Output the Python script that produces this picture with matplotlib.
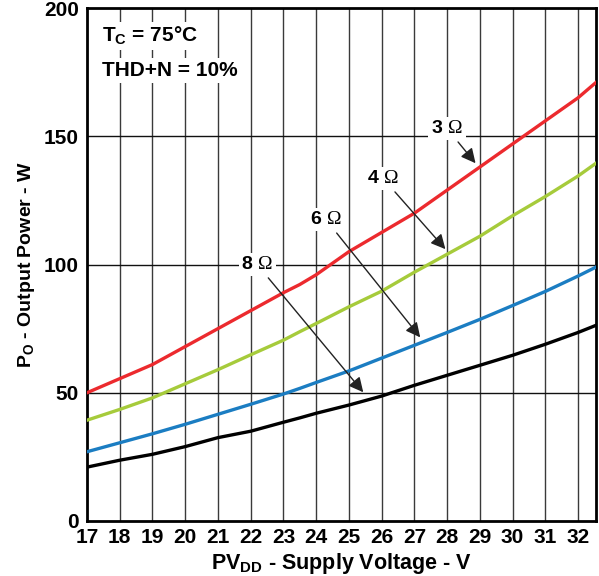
import matplotlib
matplotlib.use("Agg")
import matplotlib.pyplot as plt

plt.rcParams['font.family'] = ['Liberation Sans', 'DejaVu Sans']
plt.rcParams['mathtext.fontset'] = 'custom'
plt.rcParams['mathtext.rm'] = 'Liberation Serif'
plt.rcParams['mathtext.bf'] = 'Liberation Sans:bold'
plt.rcParams['mathtext.it'] = 'Liberation Sans:bold'

# supply voltage (V)
volts = [17, 18, 19, 20, 21, 22, 23, 23.5, 24, 25, 26, 27, 28, 29, 30, 31, 32, 32.55]
# output power (W) per load
p_3ohm = [50, 55.5, 61, 68, 75, 82, 89, 92.2, 96, 105, 112.5, 120, 129, 138, 147, 156, 165, 171]
p_4ohm = [39.3, 43.5, 48, 53.5, 59, 64.8, 70.5, 73.8, 77, 83.5, 89.6, 97, 104, 111, 119, 126.5, 134.5, 139.5]
p_6ohm = [27, 30.5, 34, 37.7, 41.6, 45.5, 49.5, 51.7, 54, 58.5, 63.5, 68.5, 73.5, 78.6, 84, 89.5, 95.5, 99]
p_8ohm = [21, 23.7, 26, 29, 32.5, 35, 38.5, 40.2, 42, 45.2, 48.7, 52.9, 56.8, 60.7, 64.6, 68.9, 73.5, 76.3]

x_ticks = list(range(17, 33))
y_ticks = [0, 50, 100, 150, 200]

fig = plt.figure(figsize=(5.99, 5.76), dpi=100)
ax = fig.add_axes([0.1452, 0.0955, 0.8498, 0.8905])

for v in range(18, 33):
    ax.axvline(v, color='#3a3a3a', lw=1.0, zorder=1)
for p in [50, 100, 150]:
    ax.axhline(p, color='#111111', lw=1.0, zorder=1)

ax.plot(volts, p_3ohm, color='#ec2a2e', lw=2.4, zorder=3)
ax.plot(volts, p_4ohm, color='#a6cb3b', lw=2.4, zorder=3)
ax.plot(volts, p_6ohm, color='#1b7dc2', lw=2.4, zorder=3)
ax.plot(volts, p_8ohm, color='#000000', lw=2.4, zorder=3)

ax.set_xlim(17, 32.55)
ax.set_ylim(0, 200)
ax.set_xticks(x_ticks)
ax.set_yticks(y_ticks)
ax.tick_params(length=0, labelsize=15)
ax.tick_params(axis='x', pad=5)
ax.tick_params(axis='y', pad=6)
for lbl in ax.get_xticklabels() + ax.get_yticklabels():
    lbl.set_fontweight('bold')
for s in ax.spines.values():
    s.set_linewidth(2.0)

ax.set_xlabel(r'PV$_\mathbf{DD}$ - Supply Voltage - V', fontsize=15.5, fontweight='bold', labelpad=3)
ax.set_ylabel(r'P$_\mathbf{O}$ - Output Power - W', fontsize=14, fontweight='bold', labelpad=5)

box = dict(facecolor='white', edgecolor='none', pad=2)
ax.text(0.03, 0.967, r'T$_\mathbf{C}$ = 75°C', transform=ax.transAxes, fontsize=15,
        fontweight='bold', va='top', ha='left', bbox=box, zorder=4)
ax.text(0.03, 0.897, 'THD+N = 10%', transform=ax.transAxes, fontsize=15,
        fontweight='bold', va='top', ha='left', bbox=box, zorder=4)

arrow = dict(arrowstyle='-|>', color='#222222', lw=1.0, mutation_scale=22, shrinkA=2, shrinkB=0)
labels = [
    (r'3 $\Omega$', (28.87, 139.5), (28.0, 153)),
    (r'4 $\Omega$', (27.95, 106), (26.05, 133.5)),
    (r'6 $\Omega$', (27.18, 71.6), (24.3, 117.5)),
    (r'8 $\Omega$', (25.44, 50.2), (22.2, 100)),
]
for txt, tip, pos in labels:
    ax.annotate(txt, xy=tip, xytext=pos, fontsize=14, fontweight='bold',
                ha='center', va='center', bbox=box, arrowprops=arrow, zorder=5)

fig.savefig('out.png', dpi=100)
